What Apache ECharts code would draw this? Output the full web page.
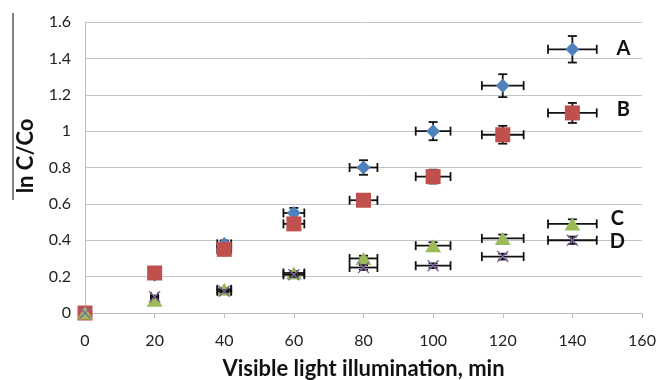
<!DOCTYPE html>
<html>
<head>
<meta charset="utf-8">
<script src="https://cdn.jsdelivr.net/npm/echarts@6/dist/echarts.min.js"></script>
<style>
  html, body { margin: 0; padding: 0; background: #fff; }
  #chart { width: 659px; height: 380px; }
</style>
</head>
<body>
<div id="chart"></div>
<script>
// Illumination time, min
const times = [0, 20, 40, 60, 80, 100, 120, 140];

// ln C/Co for each sample
const seriesA = [0, 0.21, 0.38, 0.55, 0.80, 1.00, 1.25, 1.45];
const seriesB = [0, 0.22, 0.35, 0.49, 0.62, 0.75, 0.98, 1.10];
const seriesC = [0, 0.07, 0.13, 0.22, 0.30, 0.37, 0.41, 0.49];
const seriesD = [0, 0.09, 0.12, 0.21, 0.25, 0.26, 0.31, 0.40];

// Error bar half-widths (time) and half-heights (ln C/Co)
const timeErr = [0, 1, 2, 3, 4, 5, 6, 7];
const errA = [0, 0.011, 0.019, 0.028, 0.040, 0.050, 0.063, 0.073];
const errB = [0, 0.011, 0.018, 0.025, 0.031, 0.038, 0.049, 0.055];
const errC = [0, 0.004, 0.007, 0.011, 0.015, 0.019, 0.021, 0.025];
const errD = [0, 0.005, 0.006, 0.011, 0.013, 0.013, 0.016, 0.020];

const seriesNames = ['A', 'B', 'C', 'D'];
const yTicks = ['0', '0.2', '0.4', '0.6', '0.8', '1', '1.2', '1.4', '1.6'];

const FONT = 'Lato, "Open Sans", sans-serif';
const chart = echarts.init(document.getElementById('chart'));

function points(vals) {
  return times.map((t, i) => [t, vals[i]]);
}
function errPoints(vals, errs) {
  return times.map((t, i) => [t, vals[i], timeErr[i], errs[i]]);
}

// Draws horizontal and vertical error bars with end caps
function renderErrorBar(params, api) {
  const x = api.value(0), y = api.value(1), xe = api.value(2), ye = api.value(3);
  if (!xe && !ye) return null;
  const cap = 4.5;
  const st = { stroke: '#111', lineWidth: 1.8 };
  const l = api.coord([x - xe, y]);
  const r = api.coord([x + xe, y]);
  const t = api.coord([x, y + ye]);
  const b = api.coord([x, y - ye]);
  const line = (x1, y1, x2, y2) => ({ type: 'line', shape: { x1, y1, x2, y2 }, style: st });
  return {
    type: 'group',
    children: [
      line(l[0], l[1], r[0], r[1]),
      line(l[0], l[1] - cap, l[0], l[1] + cap),
      line(r[0], r[1] - cap, r[0], r[1] + cap),
      line(t[0], t[1], b[0], b[1]),
      line(t[0] - cap, t[1], t[0] + cap, t[1]),
      line(b[0] - cap, b[1], b[0] + cap, b[1])
    ]
  };
}

const styles = [
  { vals: seriesA, errs: errA, symbol: 'diamond', size: [14, 14], color: '#4f81bd', off: [51, -1] },
  { vals: seriesB, errs: errB, symbol: 'rect', size: [15, 15], color: '#c0504d', off: [51, -3] },
  { vals: seriesC, errs: errC, symbol: 'triangle', size: [16, 13], color: '#9bbb59', off: [45, -5] },
  { vals: seriesD, errs: errD, symbol: 'path://M0,0L10,10M10,0L0,10', size: [11, 11], color: '#8064a2', off: [45, 1] }
];

const series = [];
styles.forEach((s, k) => {
  series.push({
    name: seriesNames[k] + ' error',
    type: 'custom',
    renderItem: renderErrorBar,
    data: errPoints(s.vals, s.errs),
    z: 2 + k * 2,
    silent: true
  });
  const data = points(s.vals).map((p, i) => {
    const item = { value: p };
    if (i === times.length - 1) {
      item.label = {
        show: true,
        formatter: seriesNames[k],
        position: 'inside',
        offset: s.off,
        fontFamily: FONT,
        fontSize: 20,
        fontWeight: 'bold',
        color: '#111'
      };
    }
    return item;
  });
  series.push({
    name: seriesNames[k],
    type: 'scatter',
    symbol: s.symbol,
    symbolSize: s.size,
    data: data,
    z: 3 + k * 2,
    itemStyle: k === 3
      ? { color: s.color, borderColor: s.color, borderWidth: 1.4, opacity: 1 }
      : { color: s.color, opacity: 1 },
    label: { show: false }
  });
});

chart.setOption({
  animation: false,
  backgroundColor: '#fff',
  grid: { left: 85, right: 17, top: 22, bottom: 67, outerBoundsMode: 'none' },
  xAxis: {
    type: 'value',
    min: 0, max: 160, interval: 20,
    axisLine: { show: true, lineStyle: { color: '#bdbdbd', width: 1 } },
    axisTick: { show: true, length: 5, lineStyle: { color: '#bdbdbd' } },
    splitLine: { show: false },
    axisLabel: { fontFamily: FONT, fontSize: 16, color: '#222', margin: 20 },
    name: 'Visible light illumination, min',
    nameLocation: 'middle',
    nameGap: 45,
    nameTextStyle: { fontFamily: FONT, fontSize: 22, fontWeight: 'bold', color: '#111' }
  },
  yAxis: {
    type: 'value',
    min: 0, max: 1.6, interval: 0.2,
    axisLine: { show: true, lineStyle: { color: '#bdbdbd', width: 1 } },
    axisTick: { show: false },
    splitLine: { show: true, lineStyle: { color: '#c4c4c4', width: 1 } },
    axisLabel: {
      fontFamily: FONT, fontSize: 16, color: '#222', margin: 14,
      formatter: (v) => yTicks[Math.round(v / 0.2)]
    }
  },
  graphic: [
    {
      type: 'text',
      x: 26, y: 156,
      rotation: Math.PI / 2,
      style: {
        text: 'ln C/Co',
        fontFamily: FONT, fontSize: 22, fontWeight: 'bold', fill: '#111',
        align: 'center', verticalAlign: 'middle'
      }
    },
    {
      type: 'line',
      shape: { x1: 13, y1: 13, x2: 13, y2: 200 },
      style: { stroke: '#333', lineWidth: 1.2 }
    }
  ],
  series: series
});
</script>
</body>
</html>
